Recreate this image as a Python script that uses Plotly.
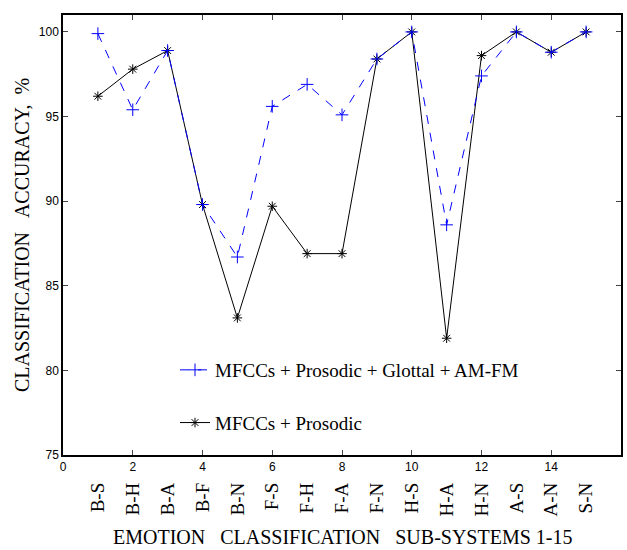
import plotly.graph_objects as go

subsystems = list(range(1, 16))
pair_labels = ["B-S", "B-H", "B-A", "B-F", "B-N", "F-S", "F-H", "F-A", "F-N",
               "H-S", "H-A", "H-N", "A-S", "A-N", "S-N"]
acc_all = [99.9, 95.4, 98.9, 89.8, 86.7, 95.6, 96.9, 95.1, 98.4,
           100.0, 88.6, 97.4, 100.0, 98.8, 100.0]
acc_pros = [96.2, 97.8, 98.9, 89.8, 83.1, 89.7, 86.9, 86.9, 98.4,
            100.0, 81.9, 98.6, 100.0, 98.8, 100.0]
x_ticks = [0, 2, 4, 6, 8, 10, 12, 14, 16]
y_ticks = [75, 80, 85, 90, 95, 100]

W, H = 627, 550
ML, MR, MT, MB = 63, 6, 15, 5
plot_w = W - ML - MR
plot_h = H - MT - MB
box_bottom_px = 455

def py(px):
    return (H - MB - px) / plot_h

def pxp(px):
    return (px - ML) / plot_w

serif = "Liberation Serif, Times New Roman, serif"
sans = "Liberation Sans, Arial, sans-serif"

fig = go.Figure()
fig.add_trace(go.Scatter(
    x=subsystems, y=acc_pros, mode="lines+markers",
    name="MFCCs + Prosodic",
    line=dict(color="black", width=1),
    marker=dict(symbol="asterisk-open", size=8, color="black", line=dict(width=1, color="black")),
    legendrank=2, legendgroup="b",
))
fig.add_trace(go.Scatter(
    x=subsystems, y=acc_all, mode="lines+markers",
    name="MFCCs + Prosodic + Glottal + AM-FM",
    line=dict(color="rgb(0,0,255)", width=1, dash="dash"),
    marker=dict(symbol="cross-thin-open", size=9, color="rgb(0,0,255)", line=dict(width=1, color="rgb(0,0,255)")),
    legendrank=1, legendgroup="a",
))
# invisible trace to carry the category axis
fig.add_trace(go.Scatter(x=subsystems, y=acc_all, xaxis="x2", mode="markers",
                         marker=dict(opacity=0), showlegend=False, hoverinfo="skip"))

fig.update_layout(
    width=W, height=H,
    margin=dict(l=ML, r=MR, t=MT, b=MB, autoexpand=False),
    paper_bgcolor="white", plot_bgcolor="white",
    showlegend=True,
    legend=dict(x=pxp(175), y=py(351), xanchor="left", yanchor="top",
                font=dict(family=serif, size=19, color="black"),
                bgcolor="rgba(0,0,0,0)", tracegroupgap=25, itemwidth=30),
    xaxis=dict(range=[0, 16], tickvals=x_ticks, ticks="inside", ticklen=5,
               showline=True, linecolor="black", linewidth=1.5, mirror="ticks",
               showgrid=False, zeroline=False, automargin=False,
               tickfont=dict(family=sans, size=12, color="black"),
               anchor="y"),
    xaxis2=dict(range=[0, 16], overlaying="x", anchor="free", position=py(478),
                tickvals=subsystems, ticktext=pair_labels, tickangle=-90,
                showline=False, ticks="", showgrid=False, zeroline=False, automargin=False,
                tickfont=dict(family=serif, size=19, color="black"), side="bottom"),
    yaxis=dict(range=[75, 101], tickvals=y_ticks, ticks="inside", ticklen=5,
               domain=[py(box_bottom_px), 1],
               showline=True, linecolor="black", linewidth=1.5, mirror="ticks",
               showgrid=False, zeroline=False, automargin=False,
               tickfont=dict(family=sans, size=12, color="black")),
    annotations=[
        dict(text="EMOTION   CLASSIFICATION   SUB-SYSTEMS 1-15",
             x=pxp(342), y=py(537), xref="paper", yref="paper",
             xanchor="center", yanchor="middle", showarrow=False,
             font=dict(family=serif, size=20, color="black")),
        dict(text="CLASSIFICATION   ACCURACY,  %", textangle=-90,
             x=pxp(22), y=py(235), xref="paper", yref="paper",
             xanchor="center", yanchor="middle", showarrow=False,
             font=dict(family=serif, size=20, color="black")),
    ],
)

fig.write_html("out.html", config={"displayModeBar": False},
               post_script="document.body.style.margin='0';document.body.style.padding='0';")
